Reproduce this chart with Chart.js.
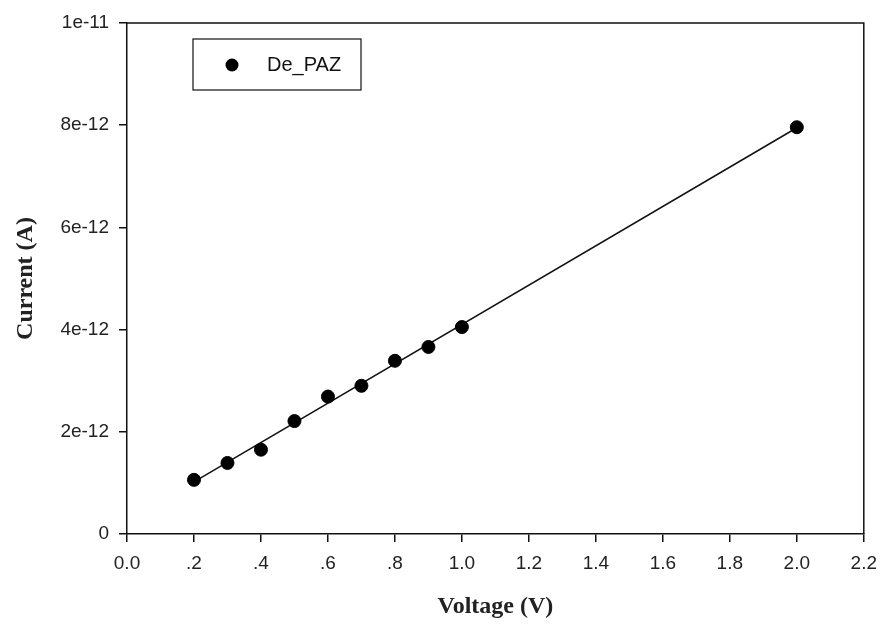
<!DOCTYPE html>
<html>
<head>
<meta charset="utf-8">
<script src="https://cdn.jsdelivr.net/npm/chart.js@4/dist/chart.umd.min.js"></script>
<style>
  html, body { margin: 0; padding: 0; background: #fff; }
  #wrap { width: 887px; height: 624px; }
</style>
</head>
<body>
<div id="wrap"><canvas id="ivChart"></canvas></div>
<script>
// measured points (De_PAZ)
const voltage = [0.2, 0.3, 0.4, 0.5, 0.6, 0.7, 0.8, 0.9, 1.0, 2.0];
const current = [1.06e-12, 1.39e-12, 1.65e-12, 2.21e-12, 2.69e-12, 2.90e-12, 3.39e-12, 3.66e-12, 4.05e-12, 7.96e-12];

// fitted line end points
const fitVoltage = [0.2, 2.0];
const fitCurrent = [1.02e-12, 7.95e-12];

const xTickLabels = ["0.0", ".2", ".4", ".6", ".8", "1.0", "1.2", "1.4", "1.6", "1.8", "2.0", "2.2"];
const yTickLabels = ["0", "2e-12", "4e-12", "6e-12", "8e-12", "1e-11"];

const seriesName = "De_PAZ";

document.addEventListener("DOMContentLoaded", function () {

    const ctx = document.getElementById("ivChart");

    // frame on top/right + legend box
    const framePlugin = {
        id: "frame",
        afterDraw(chart) {
            const c = chart.ctx;
            const a = chart.chartArea;
            c.save();
            c.strokeStyle = "#111";
            c.lineWidth = 1.5;
            c.beginPath();
            c.moveTo(a.left, a.top);
            c.lineTo(a.right, a.top);
            c.lineTo(a.right, a.bottom);
            c.stroke();

            // legend
            const lx = a.left + 66, ly = a.top + 16;
            c.lineWidth = 1.2;
            c.strokeRect(lx, ly, 168, 51);
            c.fillStyle = "#000";
            c.beginPath();
            c.arc(lx + 39, ly + 26, 6.5, 0, Math.PI * 2);
            c.fill();
            c.font = "20px Arial, 'Liberation Sans', sans-serif";
            c.textBaseline = "middle";
            c.fillStyle = "#111";
            c.fillText(seriesName, lx + 74, ly + 26);
            c.restore();
        }
    };

    new Chart(ctx, {
        type: "scatter",
        data: {
            datasets: [
                {
                    label: seriesName,
                    data: voltage.map((v, i) => ({ x: v, y: current[i] })),
                    backgroundColor: "#000",
                    borderColor: "#000",
                    pointRadius: 6.5,
                    showLine: false
                },
                {
                    label: "fit",
                    data: fitVoltage.map((v, i) => ({ x: v, y: fitCurrent[i] })),
                    borderColor: "#111",
                    borderWidth: 1.5,
                    pointRadius: 0,
                    showLine: true
                }
            ]
        },
        options: {
            responsive: true,
            maintainAspectRatio: false,
            animation: false,
            layout: { padding: { top: 23, right: 20, left: 0, bottom: 0 } },
            plugins: {
                legend: { display: false },
                tooltip: { enabled: false }
            },
            scales: {
                x: {
                    type: "linear",
                    min: 0,
                    max: 2.2,
                    afterFit(scale) { scale.height = 90; },
                    ticks: {
                        stepSize: 0.2,
                        padding: 10,
                        color: "#222",
                        font: { family: "Arial, 'Liberation Sans', sans-serif", size: 19 },
                        callback: (v, i) => xTickLabels[i]
                    },
                    grid: { drawOnChartArea: false, tickLength: 8, color: "#111", lineWidth: 1.5 },
                    border: { color: "#111", width: 1.5 },
                    title: {
                        display: true,
                        text: "Voltage (V)",
                        color: "#222",
                        padding: { top: 0, bottom: 3 },
                        font: { family: "'Times New Roman', 'Liberation Serif', serif", size: 24, weight: "bold" }
                    }
                },
                y: {
                    type: "linear",
                    min: 0,
                    max: 1e-11,
                    afterFit(scale) { scale.width = 127; },
                    ticks: {
                        stepSize: 2e-12,
                        padding: 10,
                        color: "#222",
                        font: { family: "Arial, 'Liberation Sans', sans-serif", size: 19 },
                        callback: (v, i) => yTickLabels[i]
                    },
                    grid: { drawOnChartArea: false, tickLength: 8, color: "#111", lineWidth: 1.5 },
                    border: { color: "#111", width: 1.5 },
                    title: {
                        display: true,
                        text: "Current (A)",
                        color: "#222",
                        padding: { top: 11, bottom: 0 },
                        font: { family: "'Times New Roman', 'Liberation Serif', serif", size: 24, weight: "bold" }
                    }
                }
            }
        },
        plugins: [framePlugin]
    });

});
</script>
</body>
</html>
